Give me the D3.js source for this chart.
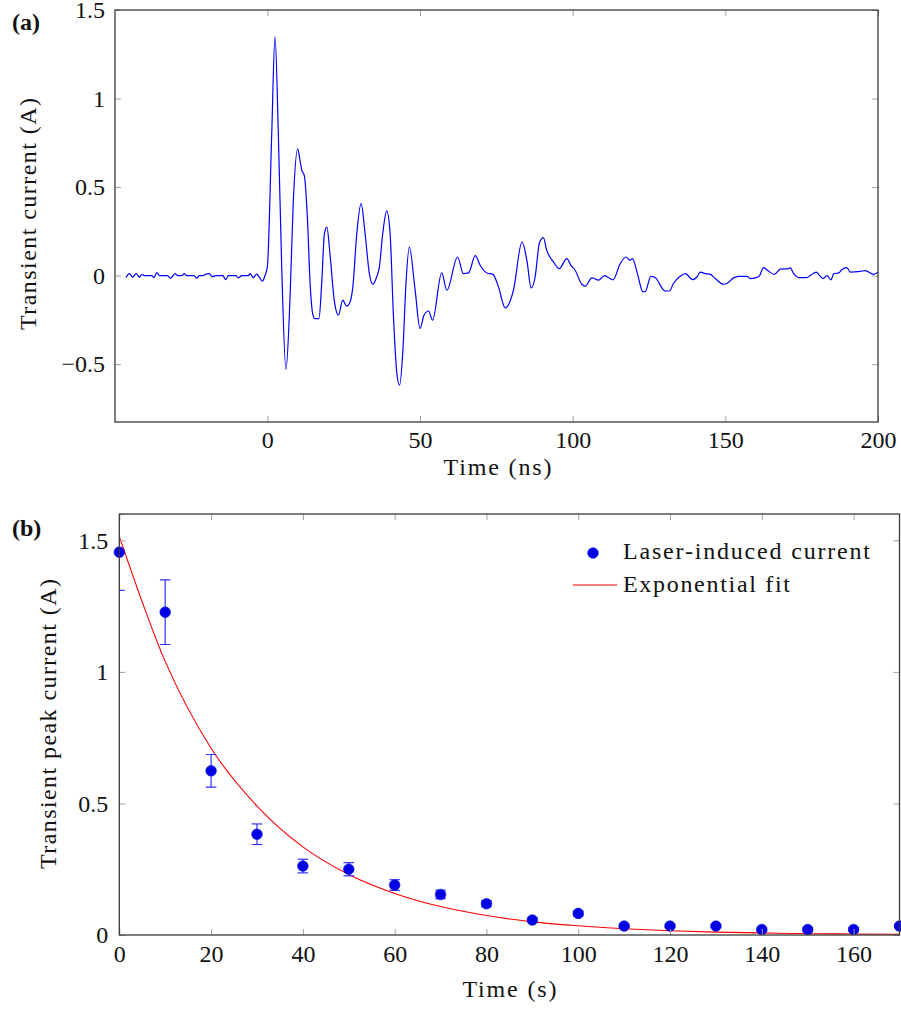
<!DOCTYPE html>
<html>
<head>
<meta charset="utf-8">
<script src="https://cdn.jsdelivr.net/npm/d3@7"></script>
<style>
  html, body { margin: 0; padding: 0; background: #fff; }
  svg { display: block; }
</style>
</head>
<body>
<svg id="chart" width="901" height="1010" font-family="'Liberation Serif', 'DejaVu Serif', serif"></svg>
<script>
// ---------------- DATA ----------------
// (a) transient current waveform: time (ns) and current (A)
const waveTime = [
  -46.3,-45.2,-44.1,-43.0,-41.9,-41.2,-40.3,-37.9,-37.1,-36.2,-35.4,-32.8,-31.7,-30.2,-29.4,-28.0,-27.2,-26.4,-24.0,-23.1,
  -22.3,-21.0,-20.1,-19.0,-18.1,-16.8,-14.6,-13.6,-12.8,-10.3,-9.5,-8.4,-6.2,-5.7,-4.6,-3.5,-2.6,-1.6,-0.75,0,
  1.43,2.5,3.6,4.7,6.1,7.4,8.5,9.95,10.7,11.3,12.1,13.1,14.0,14.9,15.6,16.9,17.8,18.7,19.5,20.5,
  21.9,23.3,24.7,26.0,26.9,28.0,29.3,30.7,32.0,33.4,34.5,35.8,36.7,37.8,39.1,40.2,41.3,42.4,43.3,44.4,
  45.4,46.5,48.4,50.0,51.3,52.8,54.1,57.1,58.8,62.3,64.2,65.9,68.1,69.7,71.9,73.9,75.7,77.9,80.6,83.4,
  85.0,86.4,87.7,89.1,90.4,91.5,93.7,95.6,98.1,99.4,100.8,103.0,104.1,106.3,108.5,110.4,111.7,113.2,115.6,117.5,
  118.8,119.6,121.2,123.0,123.8,125.6,127.0,130.3,131.7,133.0,135.2,136.9,139.3,140.7,141.8,143.4,145.1,146.7,149.4,150.5,
  152.7,154.3,157.1,158.2,159.8,161.1,162.5,164.2,166.0,168.0,170.7,171.2,172.4,174.0,176.7,177.8,179.8,180.9,182.0,183.3,
  184.6,185.5,187.1,188.2,189.8,190.9,194.2,195.8,198.6,200
];
const waveCurrent = [
  -0.011,0.011,-0.009,0.011,-0.009,0.006,0,0,-0.011,0.017,0,0,-0.015,0.011,0,0,0.011,0,0,-0.015,
  0,0,0.008,0.011,-0.006,0,0,-0.023,0,0,-0.013,0,0,0.011,-0.011,0.008,-0.009,-0.032,0.002,0.049,
  0.80,1.35,0.80,0.049,-0.53,-0.139,0.42,0.716,0.65,0.594,0.565,0.333,-0.043,-0.22,-0.243,-0.243,-0.043,0.239,0.274,0.124,
  -0.139,-0.224,-0.139,-0.173,-0.158,-0.064,0.239,0.406,0.239,0.013,-0.049,-0.008,0.049,0.239,0.365,0.239,-0.23,-0.55,-0.619,-0.42,
  -0.043,0.161,-0.083,-0.299,-0.224,-0.2,-0.252,0.015,-0.083,0.105,0.011,0.015,0.113,0.058,0.015,0.007,-0.064,-0.183,-0.083,0.19,
  0.086,-0.07,-0.008,0.184,0.214,0.143,0.077,0.039,0.096,0.058,0.03,-0.049,-0.06,-0.013,-0.026,0,-0.011,-0.024,0.068,0.105,
  0.086,0.096,0.011,-0.092,-0.09,-0.004,-0.011,-0.087,-0.087,-0.045,-0.004,0.011,-0.023,-0.008,0.02,0.011,0.007,-0.017,-0.049,-0.045,
  -0.013,-0.004,-0.004,-0.017,-0.013,-0.004,0.045,0.024,0.007,0.036,0.039,0.045,0.011,-0.011,-0.011,0,0.02,0,-0.017,0,
  -0.024,0.011,0.015,0.034,0.045,0.02,0.024,0.028,0.007,0.02
];
const xTicksA = [0, 50, 100, 150, 200];
const yTicksA = [-0.5, 0, 0.5, 1, 1.5];
const yTickLabelsA = ["\u22120.5", "0", "0.5", "1", "1.5"];

// (b) peak current decay: time (s), peak current (A), error (A)
const peakTime = [0, 10, 20, 30, 40, 50, 60, 70, 80, 90, 100, 110, 120, 130, 140, 150, 160, 170];
const peakCurrent = [1.455, 1.227, 0.624, 0.383, 0.262, 0.25, 0.19, 0.154, 0.119, 0.057, 0.082, 0.034, 0.034, 0.034, 0.021, 0.021, 0.021, 0.034];
const peakError = [0.145, 0.123, 0.062, 0.039, 0.026, 0.025, 0.02, 0.016, 0.012, 0.008, 0.009, 0.005, 0.005, 0.005, 0.005, 0.005, 0.005, 0.005];
// exponential fit curve, read at 10 s steps
const fitTime = [0, 10, 20, 30, 40, 50, 60, 70, 80, 90, 100, 110, 120, 130, 140, 150, 160, 170];
const fitCurrent = [1.515, 1.04, 0.71, 0.49, 0.335, 0.23, 0.158, 0.108, 0.074, 0.05, 0.035, 0.024, 0.016, 0.011, 0.008, 0.005, 0.004, 0.003];
const xTicksB = [0, 20, 40, 60, 80, 100, 120, 140, 160];
const yTicksB = [0, 0.5, 1, 1.5];
const yTickLabelsB = ["0", "0.5", "1", "1.5"];
const legendLabels = ["Laser-induced current", "Exponential fit"];

// ---------------- DRAW ----------------
const FONT = "'Liberation Serif', 'DejaVu Serif', serif";
const svg = d3.select("#chart");
const FS = 24;
const frameColor = "#3a3a3a";
const tickColor = "#a0a0a0";

function txt(sel) {
  return sel.append("text").attr("font-family", FONT).attr("font-size", FS).attr("fill", "#111");
}

function frameAxes(g, x, y, W, H, xt, yt, ytl, padX, padY) {
  const fmtY = d => ytl[yt.indexOf(d)];
  const ax = [
    {a: d3.axisBottom(x).tickValues(xt).tickSize(-6).tickPadding(padX).tickFormat(d3.format("d")), t: `translate(0,${H})`},
    {a: d3.axisTop(x).tickValues(xt).tickSize(-6).tickFormat(""), t: null},
    {a: d3.axisLeft(y).tickValues(yt).tickSize(-6).tickPadding(padY).tickFormat(fmtY), t: null},
    {a: d3.axisRight(y).tickValues(yt).tickSize(-6).tickFormat(""), t: `translate(${W},0)`}
  ];
  ax.forEach(o => {
    const gg = g.append("g");
    if (o.t) gg.attr("transform", o.t);
    gg.call(o.a);
    gg.attr("font-family", FONT).attr("font-size", FS);
    gg.select(".domain").remove();
    gg.selectAll(".tick line").attr("stroke", tickColor).attr("stroke-width", 1);
    gg.selectAll(".tick text").attr("font-size", FS).attr("fill", "#111").attr("font-family", FONT);
  });
  g.append("rect").attr("x", 0).attr("y", 0).attr("width", W).attr("height", H)
    .attr("fill", "none").attr("stroke", frameColor).attr("stroke-width", 1.3);
}

// ----- Panel (a)
{
  const L = 115, T = 10, W = 878 - 115, H = 422 - 10;
  const g = svg.append("g").attr("transform", `translate(${L},${T})`);
  const x = d3.scaleLinear().domain([-49.9, 200]).range([0, W]);
  const y = d3.scaleLinear().domain([-0.827, 1.5]).range([H, 0]);
  g.append("clipPath").attr("id", "clipA").append("rect").attr("width", W).attr("height", H);
  const pts = waveTime.map((t, i) => [t, waveCurrent[i]]);
  const line = d3.line().x(d => x(d[0])).y(d => y(d[1])).curve(d3.curveMonotoneX);
  g.append("path").attr("clip-path", "url(#clipA)").attr("d", line(pts))
    .attr("fill", "none").attr("stroke", "#0000ff").attr("stroke-width", 1.2).attr("stroke-linejoin", "round");
  frameAxes(g, x, y, W, H, xTicksA, yTicksA, yTickLabelsA, 9, 10);
  txt(g).attr("x", W / 2 + 1).attr("y", 475 - T).attr("text-anchor", "middle")
    .attr("textLength", 108).attr("lengthAdjust", "spacing").text("Time (ns)");
  txt(g).attr("transform", `translate(${36 - L},${214 - T}) rotate(-90)`).attr("text-anchor", "middle")
    .attr("textLength", 232).attr("lengthAdjust", "spacing").text("Transient current (A)");
  txt(svg).attr("x", 12).attr("y", 30).attr("font-weight", "bold").text("(a)");
}

// ----- Panel (b)
{
  const L = 119.3, T = 514, W = 899.5 - 119.3, H = 935 - 514;
  const g = svg.append("g").attr("transform", `translate(${L},${T})`);
  const x = d3.scaleLinear().domain([0, 170]).range([0, W]);
  const y = d3.scaleLinear().domain([0, 1.6]).range([H, 0]);
  g.append("clipPath").attr("id", "clipB").append("rect").attr("width", W).attr("height", H);
  const fitPts = fitTime.map((t, i) => [t, fitCurrent[i]]);
  const line = d3.line().x(d => x(d[0])).y(d => y(d[1])).curve(d3.curveMonotoneX);
  g.append("path").attr("clip-path", "url(#clipB)").attr("d", line(fitPts))
    .attr("fill", "none").attr("stroke", "#ff0000").attr("stroke-width", 1.1);

  const data = peakTime.map((t, i) => ({t, v: peakCurrent[i], e: peakError[i]}));
  const eb = g.append("g").attr("clip-path", "url(#clipB)").attr("stroke", "#3333ff").attr("stroke-width", 1.2);
  const cap = 5.3;
  data.forEach(d => {
    const cx = x(d.t), y1 = y(d.v + d.e), y2 = y(d.v - d.e);
    eb.append("line").attr("x1", cx).attr("x2", cx).attr("y1", y1).attr("y2", y2);
    eb.append("line").attr("x1", cx - cap).attr("x2", cx + cap).attr("y1", y1).attr("y2", y1);
    eb.append("line").attr("x1", cx - cap).attr("x2", cx + cap).attr("y1", y2).attr("y2", y2);
  });
  g.append("g").selectAll("circle").data(data).join("circle")
    .attr("cx", d => x(d.t)).attr("cy", d => y(d.v)).attr("r", 5.3)
    .attr("fill", "#0000e6").attr("stroke", "#0000cc").attr("stroke-width", 0.6);

  frameAxes(g, x, y, W, H, xTicksB, yTicksB, yTickLabelsB, 10, 11);

  // legend
  const lg = svg.append("g");
  lg.append("circle").attr("cx", 593).attr("cy", 553).attr("r", 5.3).attr("fill", "#0000e6").attr("stroke", "#0000cc").attr("stroke-width", 0.6);
  txt(lg).attr("x", 623).attr("y", 559).attr("textLength", 247).attr("lengthAdjust", "spacing").text(legendLabels[0]);
  lg.append("line").attr("x1", 573).attr("x2", 617).attr("y1", 585).attr("y2", 585).attr("stroke", "#ff0000").attr("stroke-width", 1.1);
  txt(lg).attr("x", 623).attr("y", 592).attr("textLength", 167).attr("lengthAdjust", "spacing").text(legendLabels[1]);

  txt(g).attr("x", W / 2).attr("y", 997 - T).attr("text-anchor", "middle")
    .attr("textLength", 94).attr("lengthAdjust", "spacing").text("Time (s)");
  txt(g).attr("transform", `translate(${56 - L},${724 - T}) rotate(-90)`).attr("text-anchor", "middle")
    .attr("textLength", 290).attr("lengthAdjust", "spacing").text("Transient peak current (A)");
  txt(svg).attr("x", 12).attr("y", 536).attr("font-weight", "bold").text("(b)");
}
</script>
</body>
</html>
